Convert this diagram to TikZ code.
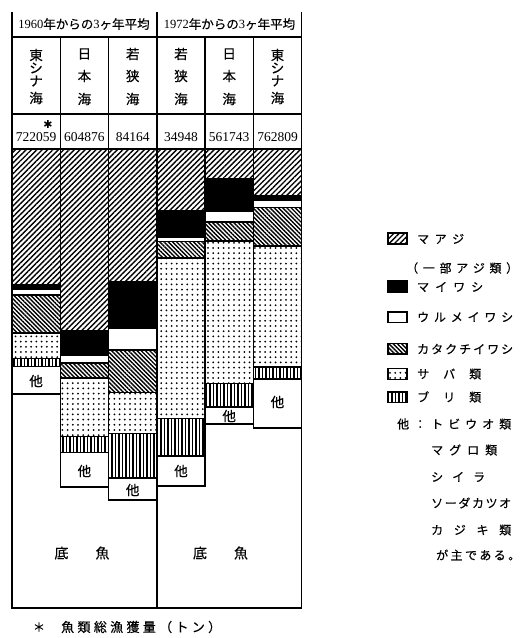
\documentclass[tikz,border=0pt]{standalone}
\usepackage{fontspec}
\setmainfont{Liberation Serif}
\newfontfamily\jp[FakeBold=0.4]{Noto Sans CJK JP}
\newfontfamily\djv{DejaVu Sans}
\usetikzlibrary{patterns.meta}
\newcommand\sg[5]{\draw[segbox,#5] (#1,#3) rectangle (#2,#4);}
\newcommand\spr[2]{\makebox[#1][l]{#2}}
\tikzset{
  segbox/.style={draw, line width=1.3pt},
  frame/.style={draw, line width=1.4pt},
  maaji/.style={pattern={Lines[angle=45,distance=3.8pt,line width=1.35pt]}},
  maiwashi/.style={fill=black},
  urume/.style={fill=white},
  katakuchi/.style={pattern={Lines[angle=-45,distance=3.0pt,line width=1.4pt]}},
  saba/.style={pattern={Dots[distance=5.2pt,radius=1pt]}},
  buri/.style={pattern={Lines[angle=90,distance=3.5pt,line width=1.6pt]}},
  other/.style={fill=white},
  legbox/.style={draw, line width=1.1pt},
  jtxt/.style={inner sep=0pt, font=\jp\fontsize{13.5}{13.5}\selectfont},
  ltxt/.style={inner sep=0pt, anchor=west, font=\jp\fontsize{12}{12}\selectfont},
  num/.style={inner sep=0pt, font=\fontsize{13.5}{13.5}\selectfont},
}
\begin{document}
\begin{tikzpicture}[x=1pt,y=-1pt]
\useasboundingbox[fill=white] (0,0) rectangle (522,638);

% ---- column 1 : East China Sea 1960
\sg{12}{60.3}{149}{285}{maaji}
\sg{12}{60.3}{285}{289}{maiwashi}
\sg{12}{60.3}{289}{295}{urume}
\sg{12}{60.3}{295}{333}{katakuchi}
\sg{12}{60.3}{333}{358.5}{saba}
\sg{12}{60.3}{358.5}{366.5}{buri}
\sg{12}{60.3}{366.5}{394}{other}
% ---- column 2 : Sea of Japan 1960
\sg{60.3}{108.6}{149}{331}{maaji}
\sg{60.3}{108.6}{331}{355}{maiwashi}
\sg{60.3}{108.6}{355}{363}{urume}
\sg{60.3}{108.6}{363}{378}{katakuchi}
\sg{60.3}{108.6}{378}{436.5}{saba}
\sg{60.3}{108.6}{436.5}{452.5}{buri}
\sg{60.3}{108.6}{452.5}{487}{other}
% ---- column 3 : Wakasa 1960
\sg{108.6}{156.9}{149}{282}{maaji}
\sg{108.6}{156.9}{282}{328.5}{maiwashi}
\sg{108.6}{156.9}{328.5}{350}{urume}
\sg{108.6}{156.9}{350}{392.5}{katakuchi}
\sg{108.6}{156.9}{392.5}{433.5}{saba}
\sg{108.6}{156.9}{433.5}{478}{buri}
\sg{108.6}{156.9}{478}{500}{other}
% ---- column 4 : Wakasa 1972
\sg{156.9}{205.1}{149}{211}{maaji}
\sg{156.9}{205.1}{211}{237}{maiwashi}
\sg{156.9}{205.1}{237}{241.5}{urume}
\sg{156.9}{205.1}{241.5}{258}{katakuchi}
\sg{156.9}{205.1}{258}{418.5}{saba}
\sg{156.9}{205.1}{418.5}{456}{buri}
\sg{156.9}{205.1}{456}{486}{other}
% ---- column 5 : Sea of Japan 1972
\sg{205.1}{253.4}{149}{179}{maaji}
\sg{205.1}{253.4}{179}{211.5}{maiwashi}
\sg{205.1}{253.4}{211.5}{222}{urume}
\sg{205.1}{253.4}{222}{241}{katakuchi}
\sg{205.1}{253.4}{241}{383.5}{saba}
\sg{205.1}{253.4}{383.5}{407}{buri}
\sg{205.1}{253.4}{407}{424}{other}
% ---- column 6 : East China Sea 1972
\sg{253.4}{301.7}{149}{196}{maaji}
\sg{253.4}{301.7}{196}{200}{maiwashi}
\sg{253.4}{301.7}{200}{207.5}{urume}
\sg{253.4}{301.7}{207.5}{246}{katakuchi}
\sg{253.4}{301.7}{246}{367}{saba}
\sg{253.4}{301.7}{367}{379}{buri}
\sg{253.4}{301.7}{379}{428}{other}

% ---- frame
\draw[frame] (12,12) -- (12,608) -- (301.7,608) -- (301.7,12);
\draw[frame] (156.9,12) -- (156.9,608);
\draw[frame] (12,37) -- (301.7,37);
\draw[frame] (12,114) -- (301.7,114);
\draw[frame] (12,149) -- (301.7,149);
\foreach \xx in {60.3,108.6,205.1,253.4} \draw[frame] (\xx,37) -- (\xx,149);

% ---- header
\node[inner sep=0pt, font=\fontsize{12.5}{12.5}\selectfont] (h1) at (84,24) {1960{\jp 年からの}3{\jp ヶ年平均}};
\node[inner sep=0pt, font=\fontsize{12.5}{12.5}\selectfont] (h2) at (229.5,24) {1972{\jp 年からの}3{\jp ヶ年平均}};

% ---- sea names
\node[jtxt] (n1a) at (36.1,55) {東};
\node[jtxt] (n1b) at (36.1,68) {シ};
\node[jtxt] (n1c) at (36.1,81) {ナ};
\node[jtxt] (n1d) at (36.1,98) {海};
\node[jtxt] (n2a) at (84.4,54) {日};
\node[jtxt] (n2b) at (84.4,76) {本};
\node[jtxt] (n2c) at (84.4,99) {海};
\node[jtxt] (n3a) at (132.7,54) {若};
\node[jtxt] (n3b) at (132.7,76) {狭};
\node[jtxt] (n3c) at (132.7,99) {海};
\node[jtxt] (n4a) at (181,54) {若};
\node[jtxt] (n4b) at (181,76) {狭};
\node[jtxt] (n4c) at (181,99) {海};
\node[jtxt] (n5a) at (229.2,54) {日};
\node[jtxt] (n5b) at (229.2,76) {本};
\node[jtxt] (n5c) at (229.2,99) {海};
\node[jtxt] (n6a) at (277.5,55) {東};
\node[jtxt] (n6b) at (277.5,68) {シ};
\node[jtxt] (n6c) at (277.5,81) {ナ};
\node[jtxt] (n6d) at (277.5,98) {海};

% ---- totals
\node[inner sep=0pt, font=\djv\fontsize{11}{11}\selectfont] (ast) at (48,124) {✱};
\node[num] (v1) at (36.1,137.5) {722059};
\node[num] (v2) at (84.4,137.5) {604876};
\node[num] (v3) at (132.7,137.5) {84164};
\node[num] (v4) at (181,137.5) {34948};
\node[num] (v5) at (229.2,137.5) {561743};
\node[num] (v6) at (277.5,137.5) {762809};

% ---- others labels
\node[jtxt] (o1) at (36.1,381) {他};
\node[jtxt] (o2) at (84.4,471) {他};
\node[jtxt] (o3) at (132.7,490) {他};
\node[jtxt] (o4) at (181,471) {他};
\node[jtxt] (o5) at (229.2,416) {他};
\node[jtxt] (o6) at (277.5,402) {他};

% ---- demersal fish
\node[jtxt, font=\jp\fontsize{14}{14}\selectfont] (d1a) at (61.5,553) {底};
\node[jtxt, font=\jp\fontsize{14}{14}\selectfont] (d1b) at (102.5,553) {魚};
\node[jtxt, font=\jp\fontsize{14}{14}\selectfont] (d2a) at (200,553) {底};
\node[jtxt, font=\jp\fontsize{14}{14}\selectfont] (d2b) at (241,553) {魚};

% ---- footnote
\node[jtxt, font=\jp\fontsize{12}{12}\selectfont] (fa) at (39,627) {＊};
\node[ltxt, font=\jp\fontsize{13}{13}\selectfont] (fb) at (61,627) {\spr{160pt}{魚\hfill 類\hfill 総\hfill 漁\hfill 獲\hfill 量\hfill （\hfill ト\hfill ン\hfill ）}};

% ---- legend
\draw[legbox, maaji] (388,233) rectangle (407,244);
\draw[legbox, maiwashi] (388,281) rectangle (407,292);
\draw[legbox, urume] (388,312) rectangle (407,322.5);
\draw[legbox, katakuchi] (388,343.5) rectangle (407,354);
\draw[legbox, saba] (388,368.5) rectangle (407,379.5);
\draw[legbox, buri] (388,392) rectangle (407,402.5);
\node[ltxt] (l1) at (417,239) {\spr{47pt}{マ\hfill ア\hfill ジ}};
\node[ltxt] (l1b) at (406,268) {\spr{112pt}{（\hfill 一\hfill 部\hfill ア\hfill ジ\hfill 類\hfill ）}};
\node[ltxt] (l2) at (417,287) {\spr{66pt}{マ\hfill イ\hfill ワ\hfill シ}};
\node[ltxt] (l3) at (417,317) {\spr{96pt}{ウ\hfill ル\hfill メ\hfill イ\hfill ワ\hfill シ}};
\node[ltxt] (l4) at (417,349) {\spr{96pt}{カ\hfill タ\hfill ク\hfill チ\hfill イ\hfill ワ\hfill シ}};
\node[ltxt] (l5) at (417,374) {\spr{64pt}{サ\hfill バ\hfill 類}};
\node[ltxt] (l6) at (417,397) {\spr{64pt}{ブ\hfill リ\hfill 類}};
\node[ltxt] (l7) at (397,424) {\spr{114pt}{他\hfill ：\hfill ト\hfill ビ\hfill ウ\hfill オ\hfill 類}};
\node[ltxt] (l8) at (431,450) {\spr{66pt}{マ\hfill グ\hfill ロ\hfill 類}};
\node[ltxt] (l9) at (431,477) {\spr{54pt}{シ\hfill イ\hfill ラ}};
\node[ltxt] (l10) at (431,503) {\spr{80pt}{ソ\hfill ー\hfill ダ\hfill カ\hfill ツ\hfill オ}};
\node[ltxt] (l11) at (431,530) {\spr{80pt}{カ\hfill ジ\hfill キ\hfill 類}};
\node[ltxt] (l12) at (436,555) {\spr{84pt}{が\hfill 主\hfill で\hfill あ\hfill る\hfill 。}};
\end{tikzpicture}
\end{document}
